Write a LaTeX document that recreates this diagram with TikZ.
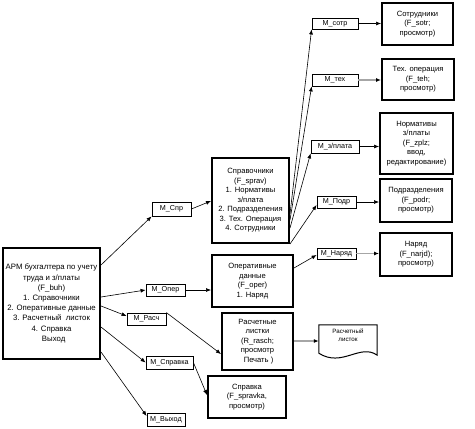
\documentclass[tikz,border=0pt]{standalone}
\usepackage{fontspec}
\setmainfont{Liberation Sans}
\usetikzlibrary{arrows.meta}
\tikzset{
  bigbox/.style={draw, line width=2pt, align=center, inner sep=0pt, font=\fontsize{7.6}{9.5}\selectfont},
  mbox/.style={draw, line width=0.8pt, align=center, inner sep=0pt, font=\fontsize{7.2}{8}\selectfont},
  conn/.style={line width=0.6pt, -{Latex[length=5pt,width=4pt]}},
  gconn/.style={line width=1.1pt, draw=gray!70, -{Latex[length=5pt,width=4pt,color=black]}},
}
\begin{document}
\begin{tikzpicture}[x=1pt,y=-1pt]
\useasboundingbox (0,0) rectangle (475,429);
% main
\node[bigbox, minimum width=97pt, minimum height=111pt, font=\fontsize{7.8}{10.2}\selectfont] (main) at (51.5,303.5)
  {АРМ бухгалтера по учету\\труда и з/платы\\(F\_buh)\\1. Справочники\\2. Оперативные данные\\3. Расчетный\ \ листок\\4. Справка\\\ \ Выход};
% first level menus
\node[mbox, minimum width=39pt, minimum height=14pt] (mspr) at (171.5,209) {M\_Спр};
\node[mbox, minimum width=39pt, minimum height=12pt] (moper) at (165.5,290) {M\_Опер};
\node[mbox, minimum width=39pt, minimum height=12pt] (mrasch) at (146.5,319) {M\_Расч};
\node[mbox, minimum width=47pt, minimum height=13pt] (mspravka) at (169.5,362.5) {M\_Справка};
\node[mbox, minimum width=38pt, minimum height=13pt] (mvyhod) at (166,419.5) {M\_Выход};
% second level forms
\node[bigbox, minimum width=77pt, minimum height=85pt] (spr) at (250.5,200.5)
  {Справочники\\(F\_sprav)\\1. Нормативы\\з/плата\\2. Подразделения\\3. Тех. Операция\\4. Сотрудники};
\node[bigbox, minimum width=81pt, minimum height=52pt] (oper) at (252.5,281)
  {Оперативные\\данные\\(F\_oper)\\1. Наряд};
\node[bigbox, minimum width=71pt, minimum height=57pt] (rasch) at (257.5,341.5)
  {Расчетные\\листки\\(R\_rasch;\\просмотр\\\ Печать )};
\node[bigbox, minimum width=78pt, minimum height=42pt] (spravka) at (247,397)
  {Справка\\(F\_spravka,\\просмотр)};
% document
\node[minimum width=58pt, minimum height=32pt, inner sep=0pt] (doc) at (348,341) {};
\draw[line width=1pt] (doc.north west) -- (doc.north east) -- ([yshift=2pt]doc.south east)
  .. controls (360,343) and (342,368) .. ([yshift=4pt]doc.south west) -- cycle;
\node[align=center, font=\fontsize{6.2}{8}\selectfont] (doctext) at (348,335) {Расчетный\\листок};
% third level menus
\node[mbox, minimum width=46pt, minimum height=11pt] (msotr) at (335,23.5) {M\_сотр};
\node[mbox, minimum width=46pt, minimum height=12pt] (mteh) at (335,80) {M\_тех};
\node[mbox, minimum width=48pt, minimum height=13pt] (mzpl) at (335,146.5) {M\_з/плата};
\node[mbox, minimum width=39pt, minimum height=12pt] (mpodr) at (336.5,202) {M\_Подр};
\node[mbox, minimum width=39pt, minimum height=11pt] (mnar) at (336.5,253.5) {M\_Наряд};
% third level forms
\node[bigbox, minimum width=71pt, minimum height=42pt] (sotr) at (417.5,24) {Сотрудники\\(F\_sotr;\\просмотр)};
\node[bigbox, minimum width=72pt, minimum height=41pt] (teh) at (418,79.5) {Тех. операция\\(F\_teh;\\просмотр)};
\node[bigbox, minimum width=73pt, minimum height=61pt] (norm) at (416.5,143.5) {Нормативы\\з/платы\\(F\_zplz;\\ввод,\\редактирование)};
\node[bigbox, minimum width=72pt, minimum height=43pt] (podr) at (416,200.5) {Подразделения\\(F\_podr;\\просмотр)};
\node[bigbox, minimum width=72pt, minimum height=43pt] (nar) at (416,254.5) {Наряд\\(F\_narjd);\\просмотр)};
% connectors from main
\draw[conn] (main.north east |- 0,265) -- (mspr.south west);
\draw[conn] (main.north east |- 0,297) -- (moper.west);
\draw[conn] (main.north east |- 0,306) -- (mrasch.west |- 0,316);
\draw[conn] (main.north east |- 0,327) -- (mspravka.west);
\draw[conn] (main.north east |- 0,352) -- (mvyhod.west |- 0,416);
% first level to forms
\draw[conn] (mspr.east) -- (spr.west |- 0,201);
\draw[conn] (moper.east) -- (oper.west |- moper.east);
\draw[conn] (mrasch.north east) -- (rasch.west |- 0,354);
\draw[conn] (mspravka.east) -- (spravka.west |- 0,395);
\draw[gconn] (rasch.east |- doc.west) -- (doc.west);
% from Справочники
\draw[conn] (spr.north east |- 0,214) -- (msotr.south west);
\draw[conn] (spr.north east |- 0,220) -- (mteh.south west);
\draw[conn] (spr.north east |- 0,228) -- (mzpl.south west);
\draw[conn] (spr.south east) -- (mpodr.west |- 0,205);
\draw[conn] (oper.north east |- 0,268) -- (mnar.west |- 0,255);
% third level
\draw[conn] (msotr.east) -- (sotr.west |- msotr.east);
\draw[gconn] (mteh.east) -- (teh.west |- mteh.east);
\draw[conn] (mzpl.east) -- (norm.west |- mzpl.east);
\draw[conn] (mpodr.east) -- (podr.west |- mpodr.east);
\draw[gconn] (mnar.east) -- (nar.west |- mnar.east);
\end{tikzpicture}
\end{document}
